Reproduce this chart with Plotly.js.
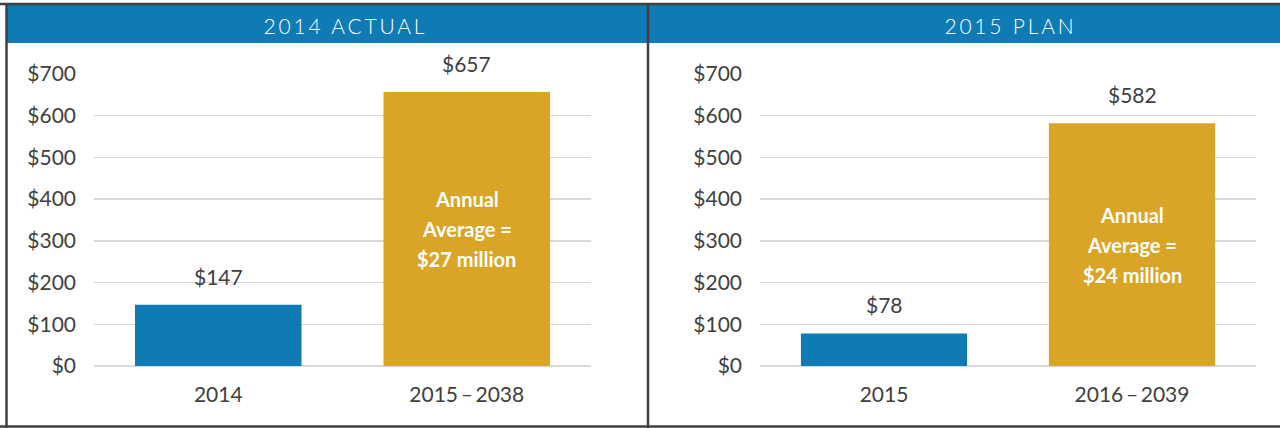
<!DOCTYPE html>
<html>
<head>
<meta charset="utf-8">
<script src="https://cdn.plot.ly/plotly-3.0.1.min.js"></script>
<style>
  html, body { margin: 0; padding: 0; background: #fff; }
  #chart { width: 1280px; height: 428px; }
  g.annotation[data-index="0"] text, g.annotation[data-index="1"] text { letter-spacing: 2.8px; }
</style>
</head>
<body>
<div id="chart"></div>
<script>
// ---- data ----
const panelTitles = ['2014 ACTUAL', '2015 PLAN'];
const leftCategories = ['2014', '2015\u2009\u2013\u20092038'];
const leftValues = [147, 657];
const rightCategories = ['2015', '2016\u2009\u2013\u20092039'];
const rightValues = [78, 582];
const avgLabels = ['$27 million', '$24 million'];

// ---- styling ----
const BLUE = '#0E7BB5';
const GOLD = '#DAA526';
const BORDER = '#404040';
const GRID = '#D9D9D9';
const TEXT = '#404040';
const W = 1280, H = 428;
const px = x => x / W;
const py = y => 1 - y / H;

function tickFont() { return { family: 'Lato, "Open Sans", sans-serif', size: 21, color: TEXT }; }

const traces = [
  { type: 'bar', x: leftCategories, y: leftValues, xaxis: 'x', yaxis: 'y',
    marker: { color: [BLUE, GOLD] }, hoverinfo: 'none', showlegend: false },
  { type: 'bar', x: rightCategories, y: rightValues, xaxis: 'x2', yaxis: 'y2',
    marker: { color: [BLUE, GOLD] }, hoverinfo: 'none', showlegend: false }
];

const yDomain = [py(366), py(74)];
function yAxis(anchor) {
  return {
    domain: yDomain, anchor: anchor, range: [0, 700], autorange: false, tick0: 0, dtick: 100,
    tickprefix: '$', tickfont: tickFont(), showgrid: true, gridcolor: GRID, gridwidth: 1.5,
    zeroline: true, zerolinecolor: GRID, zerolinewidth: 2.5, showline: false,
    ticks: '', ticklabelstandoff: 17
  };
}
function xAxis(domain, anchor) {
  return {
    domain: domain, anchor: anchor, type: 'category', range: [-0.5, 1.5], autorange: false,
    showgrid: false, zeroline: false,
    showline: false, ticks: '', tickfont: tickFont(), ticklabelstandoff: 14
  };
}

const annotations = [];
// panel titles (index 0,1)
const titleX = [345, 1010];
panelTitles.forEach((t, i) => annotations.push({
  xref: 'paper', yref: 'paper', x: px(titleX[i]), y: py(25), xanchor: 'center', yanchor: 'middle',
  text: t, showarrow: false,
  font: { family: 'Lato, "Open Sans", sans-serif', size: 21, color: '#FFFFFF', weight: 300 }
}));
// value labels
[[leftCategories, leftValues, 'x', 'y'], [rightCategories, rightValues, 'x2', 'y2']].forEach(([cats, vals, xr, yr], p) => {
  cats.forEach((c, i) => annotations.push({
    xref: xr, yref: yr, x: i, y: vals[i], xanchor: 'center', yanchor: 'bottom', yshift: 14,
    text: '$' + vals[i], showarrow: false, font: tickFont()
  }));
  const lines = ['Annual', 'Average =', avgLabels[p]];
  lines.forEach((ln, k) => annotations.push({
    xref: xr, yref: yr, x: 1, y: vals[1] / 2, xanchor: 'center', yanchor: 'middle',
    yshift: (1 - k) * 30, text: ln, showarrow: false,
    font: { family: 'Lato, "Open Sans", sans-serif', size: 20, color: '#FFFFFF', weight: 700 }
  }));
});

const shapes = [
  { type: 'rect', xref: 'paper', yref: 'paper', x0: px(7), x1: px(1280), y0: py(43), y1: py(5),
    fillcolor: BLUE, line: { width: 0 }, layer: 'below' },
  { type: 'line', xref: 'paper', yref: 'paper', x0: px(0), x1: px(1280), y0: py(4), y1: py(4),
    line: { color: BORDER, width: 2.5 } },
  { type: 'line', xref: 'paper', yref: 'paper', x0: px(0), x1: px(1280), y0: py(426.5), y1: py(426.5),
    line: { color: BORDER, width: 2.5 } },
  { type: 'line', xref: 'paper', yref: 'paper', x0: px(6.5), x1: px(6.5), y0: py(3), y1: py(428),
    line: { color: BORDER, width: 2.5 } },
  { type: 'line', xref: 'paper', yref: 'paper', x0: px(648), x1: px(648), y0: py(3), y1: py(428),
    line: { color: BORDER, width: 2.5 } }
];

const layout = {
  width: W, height: H, margin: { l: 0, r: 0, t: 0, b: 0 },
  paper_bgcolor: '#FFFFFF', plot_bgcolor: 'rgba(0,0,0,0)',
  bargap: 0.33, showlegend: false,
  xaxis: xAxis([px(94), px(591)], 'y'),
  yaxis: yAxis('x'),
  xaxis2: xAxis([px(760), px(1256)], 'y2'),
  yaxis2: yAxis('x2'),
  annotations: annotations, shapes: shapes,
  font: { family: 'Lato, sans-serif', color: TEXT }
};

Plotly.newPlot('chart', traces, layout, { staticPlot: true, displayModeBar: false });
</script>
</body>
</html>
